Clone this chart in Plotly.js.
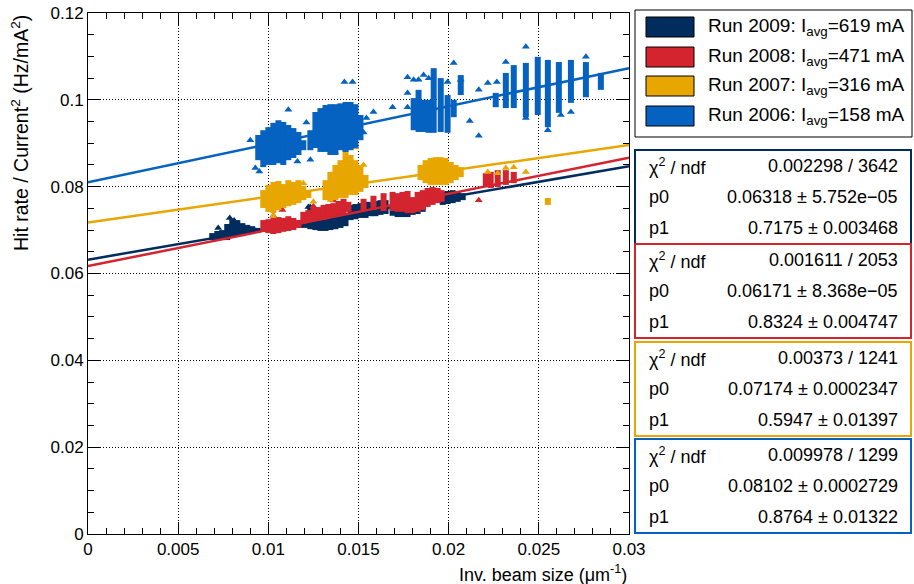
<!DOCTYPE html>
<html>
<head>
<meta charset="utf-8">
<script src="https://cdn.plot.ly/plotly-3.0.1.min.js"></script>
<style>html,body{margin:0;padding:0;background:#fff;}#chart{width:914px;height:584px;}</style>
</head>
<body>
<div id="chart"></div>
<script>
// ---------------- DATA ----------------
const runNames = ["Run 2009", "Run 2008", "Run 2007", "Run 2006"];
const runCurrents = ["619", "471", "316", "158"];
const chi2Text = ["0.002298 / 3642", "0.001611 / 2053", "0.00373 / 1241", "0.009978 / 1299"];
const p0Text = ["0.06318 \u00b1 5.752e\u221205", "0.06171 \u00b1 8.368e\u221205", "0.07174 \u00b1 0.0002347", "0.08102 \u00b1 0.0002729"];
const p1Text = ["0.7175 \u00b1 0.003468", "0.8324 \u00b1 0.004747", "0.5947 \u00b1 0.01397", "0.8764 \u00b1 0.01322"];

// fit lines (endpoints at x = 0 and x = 0.03)
const fitX = [0, 0.03];
const fit2009 = [0.06318, 0.08471];
const fit2008 = [0.06171, 0.08668];
const fit2007 = [0.07174, 0.08958];
const fit2006 = [0.08102, 0.10731];

// Run 2009 measured columns (x, lowest y, highest y) and isolated points
const r2009X  = [0.00689,0.00717,0.00744,0.00772,0.008,0.00828,0.00856,0.00883,0.00911,0.00939,
                 0.01178,0.01206,0.01233,0.01261,0.01289,0.01317,0.01344,0.01372,0.014,0.01428,
                 0.01456,0.01483,0.01511,0.01539,0.01567,0.01594,0.01622,0.0165,
                 0.01689,0.01717,0.01744,0.01772,0.018,0.01828,0.01856,
                 0.01967,0.01994,0.02022,0.0205,0.02078];
const r2009Lo = [0.0677,0.0677,0.0677,0.0677,0.0682,0.0684,0.0686,0.0689,0.0691,0.0693,
                 0.0705,0.0705,0.0702,0.0700,0.0698,0.0698,0.0700,0.0702,0.0705,0.0709,
                 0.0723,0.0725,0.0728,0.0728,0.0732,0.0732,0.0735,0.0737,
                 0.0733,0.0730,0.0730,0.0730,0.0735,0.0737,0.0742,
                 0.0758,0.0760,0.0762,0.0765,0.0769];
const r2009Hi = [0.0693,0.0698,0.0700,0.0714,0.0725,0.0723,0.0716,0.0712,0.0709,0.0705,
                 0.0723,0.0739,0.0751,0.0742,0.0730,0.0725,0.0728,0.0730,0.0732,0.0737,
                 0.0758,0.0760,0.0762,0.0765,0.0765,0.0767,0.0769,0.0769,
                 0.0760,0.0758,0.0758,0.0758,0.0758,0.0756,0.0753,
                 0.0788,0.0790,0.0792,0.0790,0.0785];
const r2009PtX = [0.01233, 0.00786, 0.0081, 0.00722, 0.01222, 0.01389];
const r2009PtY = [0.0753, 0.0728, 0.0722, 0.0705, 0.0753, 0.0738];

// Run 2008
const r2008X  = [0.00972,0.01,0.01028,0.01056,0.01083,0.01111,0.01139,0.01167,
                 0.01194,0.01222,0.0125,0.01278,0.01306,0.01333,0.01361,0.01389,0.01417,0.01444,
                 0.01528,0.01583,0.01639,0.01689,
                 0.01717,0.01744,0.01772,0.018,0.01828,0.01856,0.01883,0.01911,0.01939,0.01961,
                 0.02206,0.02233,0.02272,0.02317,0.02361];
const r2008Lo = [0.0696,0.0693,0.0691,0.0693,0.0696,0.0698,0.0700,0.0705,
                 0.0714,0.0719,0.0721,0.0723,0.0725,0.0728,0.0730,0.0735,0.0737,0.0742,
                 0.0746,0.0746,0.0744,0.0744,
                 0.0742,0.0742,0.0739,0.0739,0.0742,0.0746,0.0753,0.0758,0.0762,0.0765,
                 0.0799,0.0797,0.0799,0.0804,0.0808];
const r2008Hi = [0.0723,0.0725,0.0728,0.0730,0.0728,0.0732,0.0728,0.0723,
                 0.0742,0.0746,0.0751,0.0753,0.0758,0.0760,0.0762,0.0767,0.0772,0.0765,
                 0.0772,0.0779,0.0785,0.0788,
                 0.0785,0.0788,0.0790,0.0776,0.0788,0.0792,0.0797,0.0799,0.0797,0.0792,
                 0.0831,0.0834,0.0838,0.0838,0.0834];
const r2008PtX = [0.01078, 0.02167, 0.01028, 0.0125, 0.01361];
const r2008PtY = [0.0746, 0.0769, 0.0733, 0.0755, 0.0768];

// Run 2007
const r2007X  = [0.00972,0.01,0.01028,0.01056,0.01083,0.01111,0.01139,0.01167,0.01194,0.01222,
                 0.01317,0.01344,0.01372,0.014,0.01428,0.01456,0.01483,0.01511,0.01539,
                 0.01844,0.01872,0.019,0.01928,0.01956,0.01983,0.02011,0.02039,0.02067,
                 0.0255];
const r2007Lo = [0.0751,0.0742,0.0739,0.0746,0.0751,0.0755,0.0758,0.0762,0.0769,0.0774,
                 0.0769,0.0765,0.0769,0.0774,0.0774,0.0781,0.0781,0.0788,0.0797,
                 0.0815,0.0808,0.0804,0.0804,0.0804,0.0804,0.0808,0.0815,0.0822,
                 0.0758];
const r2007Hi = [0.0792,0.0804,0.0811,0.0813,0.0806,0.0815,0.0811,0.0815,0.0802,0.0792,
                 0.0815,0.0834,0.0850,0.0861,0.0884,0.0873,0.0861,0.0850,0.0827,
                 0.0850,0.0861,0.0866,0.0868,0.0868,0.0866,0.0857,0.0850,0.0845,
                 0.0774];
const r2007PtX = [0.0125,0.01344,0.01483,0.01528,0.01372,0.02217,0.02272,0.02317,0.02361,0.02428,0.01028,0.01194];
const r2007PtY = [0.0765,0.0884,0.0891,0.0850,0.0879,0.0834,0.0831,0.0843,0.0845,0.0834,0.0733,0.0808];

// Run 2006
const r2006X  = [0.00944,0.00972,0.01,0.01028,0.01056,0.01083,0.01111,0.01139,0.01167,0.01194,
                 0.01233,0.01261,0.01289,0.01317,0.01344,0.01372,0.014,0.01428,0.01456,0.01483,0.01511,
                 0.01806,0.01833,0.01861,0.01889,0.01917,0.01956,0.01994,0.02028,0.02067,
                 0.02261,0.02317,0.02361,0.02428,0.02494,0.0255,0.02611,0.02678,0.02761,0.02844];
const r2006Lo = [0.0861,0.0845,0.0850,0.0850,0.0854,0.0850,0.0861,0.0866,0.0873,0.0884,
                 0.0884,0.0889,0.0880,0.0880,0.0873,0.0873,0.0884,0.0880,0.0884,0.0889,0.0907,
                 0.0930,0.0926,0.0926,0.0924,0.0924,0.0926,0.0924,0.0960,0.1011,
                 0.0983,0.0981,0.0981,0.0960,0.0965,0.0937,0.0970,0.0993,0.1006,0.1023];
const r2006Hi = [0.0919,0.0930,0.0937,0.0947,0.0953,0.0949,0.0942,0.0935,0.0926,0.0907,
                 0.0930,0.0972,0.0981,0.0988,0.0990,0.0990,0.0992,0.0995,0.0995,0.0990,0.0965,
                 0.1004,0.1023,0.1000,0.1000,0.1073,0.1050,0.1011,0.1000,0.1057,
                 0.1016,0.1062,0.1080,0.1085,0.1099,0.1092,0.1087,0.1092,0.1087,0.1062];
const r2006PtX = [0.01111,0.009,0.00928,0.01422,0.01467,0.01544,0.01583,0.01689,0.01772,0.01772,0.01772,
                  0.01806,0.01833,0.01861,0.01889,0.01994,0.02028,0.02067,0.02117,0.02167,0.02167,
                  0.02217,0.02267,0.02428,0.02317,0.02428,0.0255,0.02622,0.02678,0.02761,
                  0.01233,0.01211,0.0095,0.01161,0.01528];
const r2006PtY = [0.0977,0.0907,0.0843,0.1041,0.1041,0.0958,0.0972,0.0983,0.1052,0.1016,0.0983,
                  0.1046,0.1046,0.1057,0.1050,0.1041,0.1085,0.1046,0.0951,0.0917,0.1023,
                  0.1039,0.1041,0.1122,0.1087,0.0958,0.0930,0.0965,0.0972,0.1099,
                  0.0862,0.0948,0.0835,0.0858,0.0925];

const runColors = ["#002d5e", "#d3242f", "#e8a600", "#0562c0"];

// ---------------- BUILD ----------------
function columns(xs, lo, hi, color) {
  const x = [], y = [];
  for (let i = 0; i < xs.length; i++) { x.push(xs[i], xs[i], null); y.push(lo[i], hi[i], null); }
  return {type: 'scatter', mode: 'lines', x: x, y: y, line: {color: color, width: 6},
          hoverinfo: 'skip', showlegend: false};
}
function points(xs, ys, color) {
  return {type: 'scatter', mode: 'markers', x: xs, y: ys,
          marker: {symbol: 'triangle-up', size: 7, color: color}, hoverinfo: 'skip', showlegend: false};
}
function fit(ys, color) {
  return {type: 'scatter', mode: 'lines', x: fitX, y: ys, line: {color: color, width: 2.5},
          hoverinfo: 'skip', showlegend: false};
}

const series = [
  [r2009X, r2009Lo, r2009Hi, r2009PtX, r2009PtY, fit2009],
  [r2008X, r2008Lo, r2008Hi, r2008PtX, r2008PtY, fit2008],
  [r2007X, r2007Lo, r2007Hi, r2007PtX, r2007PtY, fit2007],
  [r2006X, r2006Lo, r2006Hi, r2006PtX, r2006PtY, fit2006]
];
const traces = [];
series.forEach((s, i) => {
  traces.push(columns(s[0], s[1], s[2], runColors[i]));
  traces.push(points(s[3], s[4], runColors[i]));
  traces.push(fit(s[5], runColors[i]));
});

// pixel -> paper helpers for the side panels
const PL = 88, PR = 629, PT = 13, PB = 534;
const px = v => (v - PL) / (PR - PL);
const py = v => (PB - v) / (PB - PT);
const FONT = '"Liberation Sans", Arial, Helvetica, sans-serif';

const shapes = [];
const annotations = [];

// legend box
shapes.push({type: 'rect', xref: 'paper', yref: 'paper', x0: px(635), x1: px(912), y0: py(10), y1: py(137),
             line: {color: '#000', width: 1}, fillcolor: 'rgba(0,0,0,0)'});
const legRows = [27, 57, 86, 116];
legRows.forEach((r, i) => {
  shapes.push({type: 'rect', xref: 'paper', yref: 'paper', x0: px(646), x1: px(694), y0: py(r - 10), y1: py(r + 10),
               line: {color: '#000', width: 1}, fillcolor: runColors[i]});
  annotations.push({xref: 'paper', yref: 'paper', x: px(706), y: py(r), xanchor: 'left', yanchor: 'middle',
                    showarrow: false, text: runNames[i] + ': I<sub>avg</sub>=' + runCurrents[i] + ' mA',
                    font: {family: FONT, size: 19, color: '#000'}});
});

// fit statistics boxes
const boxTops = [150, 244, 342, 439];
boxTops.forEach((t, i) => {
  shapes.push({type: 'rect', xref: 'paper', yref: 'paper', x0: px(635), x1: px(911), y0: py(t), y1: py(t + 94),
               line: {color: runColors[i], width: 2}, fillcolor: 'rgba(0,0,0,0)'});
  const labels = ['\u03c7<sup>2</sup> / ndf', 'p0', 'p1'];
  const vals = [chi2Text[i], p0Text[i], p1Text[i]];
  [16, 47, 78].forEach((o, k) => {
    annotations.push({xref: 'paper', yref: 'paper', x: px(647), y: py(t + o), xanchor: 'left', yanchor: 'middle',
                      showarrow: false, text: labels[k], font: {family: FONT, size: 18, color: '#000'}});
    annotations.push({xref: 'paper', yref: 'paper', x: px(900), y: py(t + o), xanchor: 'right', yanchor: 'middle',
                      showarrow: false, text: vals[k], font: {family: FONT, size: 18, color: '#000'}});
  });
});

// axis titles (ROOT style: aligned to the axis end)
annotations.push({xref: 'paper', yref: 'paper', x: 1, y: py(573), xanchor: 'right', yanchor: 'middle',
                  showarrow: false, text: 'Inv. beam size (\u03bcm<sup>-1</sup>)', font: {family: FONT, size: 18, color: '#000'}});
annotations.push({xref: 'paper', yref: 'paper', x: px(20), y: 1, xanchor: 'center', yanchor: 'top', textangle: -90,
                  showarrow: false, text: 'Hit rate / Current<sup>2</sup> (Hz/mA<sup>2</sup>)', font: {family: FONT, size: 19.5, color: '#000'}});

const axisCommon = {
  showline: true, linecolor: '#000', linewidth: 1, mirror: 'ticks',
  ticks: 'inside', ticklen: 12, tickcolor: '#000', tickwidth: 1,
  showgrid: true, gridcolor: '#000', griddash: '1px,2px', gridwidth: 1,
  zeroline: false, tickfont: {family: FONT, size: 17, color: '#000'}
};

const layout = {
  width: 914, height: 584,
  margin: {l: PL, r: 914 - PR, t: PT, b: 584 - PB, pad: 0},
  paper_bgcolor: '#fff', plot_bgcolor: '#fff',
  showlegend: false, hovermode: false,
  font: {family: FONT, color: '#000'},
  xaxis: Object.assign({}, axisCommon, {range: [0, 0.03], tick0: 0, dtick: 0.005,
          minor: {dtick: 0.001, ticks: 'inside', ticklen: 6, tickcolor: '#000', showgrid: false}}),
  yaxis: Object.assign({}, axisCommon, {range: [0, 0.12], tick0: 0, dtick: 0.02,
          minor: {dtick: 0.005, ticks: 'inside', ticklen: 6, tickcolor: '#000', showgrid: false}}),
  shapes: shapes,
  annotations: annotations
};

Plotly.newPlot('chart', traces, layout, {displayModeBar: false, staticPlot: true});
</script>
</body>
</html>
